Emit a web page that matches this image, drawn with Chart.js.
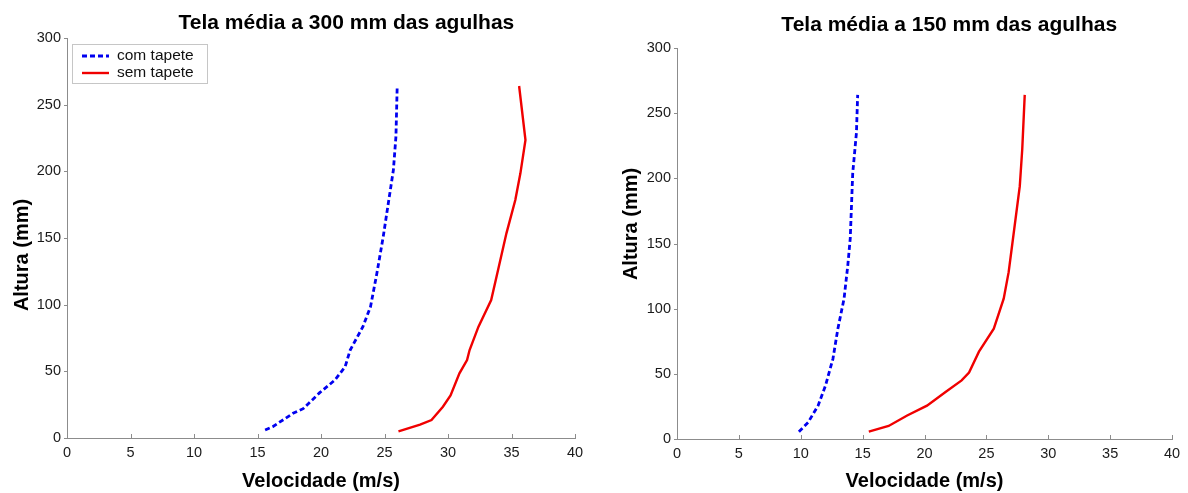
<!DOCTYPE html>
<html>
<head>
<meta charset="utf-8">
<script src="https://cdn.jsdelivr.net/npm/chart.js@4.4.1/dist/chart.umd.min.js"></script>
<style>
  body { margin: 0; background: #fff; }
  .panel { position: absolute; top: 0; height: 493px; }
  #p300 { left: 0; width: 600px; }
  #p150 { left: 600px; width: 588px; }
</style>
</head>
<body>
<div class="panel" id="p300"><canvas id="c300" width="600" height="493"></canvas></div>
<div class="panel" id="p150"><canvas id="c150" width="588" height="493"></canvas></div>
<script>
// Velocity profiles: height above the belt (mm) vs. air velocity (m/s)
const xTicks = [0, 5, 10, 15, 20, 25, 30, 35, 40]
const yTicks = [0, 50, 100, 150, 200, 250, 300]

// screen 300 mm from the needles
const alt300Com = [6, 8.5, 18.5, 22, 34, 43.5, 53.5, 66, 83.5, 98.5, 123.5, 151, 176, 201, 226, 264]
const vel300Com = [15.6, 16.2, 17.8, 18.6, 19.9, 21.1, 21.9, 22.3, 23.3, 23.9, 24.4, 24.9, 25.3, 25.7, 25.9, 26.0]
const alt300Sem = [5, 10, 13.5, 23.5, 32, 48.5, 58.5, 66, 83.5, 103.5, 128.5, 153.5, 178.5, 198.5, 223.5, 264]
const vel300Sem = [26.1, 27.8, 28.7, 29.6, 30.2, 30.9, 31.5, 31.7, 32.4, 33.4, 34.0, 34.6, 35.3, 35.7, 36.1, 35.6]

// screen 150 mm from the needles
const alt150Com = [5.6, 12.8, 25.6, 41, 61.5, 84.6, 107.7, 133, 154, 204, 235, 264]
const vel150Com = [9.85, 10.6, 11.4, 12.0, 12.6, 13.0, 13.5, 13.8, 14.0, 14.2, 14.5, 14.6]
const alt150Sem = [5.6, 10, 18, 25.6, 36, 45, 51, 67, 84.6, 107.7, 128, 150, 194, 222.5, 264]
const vel150Sem = [15.5, 17.1, 18.6, 20.2, 21.7, 23.0, 23.6, 24.4, 25.6, 26.4, 26.8, 27.1, 27.7, 27.9, 28.1]

const FONT = '"Liberation Sans", Arial, Helvetica, sans-serif'
const AXIS_GREY = "#8c8c8c"

function points(vel, alt) {
  return vel.map((v, i) => ({ x: v, y: alt[i] }))
}

function series(label, vel, alt, color, dash) {
  return {
    label: label,
    data: points(vel, alt),
    borderColor: color,
    borderWidth: dash ? 2.8 : 2.4,
    borderDash: dash || [],
    showLine: true,
    pointRadius: 0,
    tension: 0
  }
}

// MATLAB-ish decorations: short ticks, title, rotated y label, boxed legend
const axesDecor = {
  id: "axesDecor",
  afterDraw(chart, args, opts) {
    const { ctx, chartArea: area, scales: { x, y } } = chart
    ctx.save()

    ctx.strokeStyle = AXIS_GREY
    ctx.lineWidth = 1
    ctx.beginPath()
    x.ticks.forEach(t => {
      const px = Math.round(x.getPixelForValue(t.value)) + 0.5
      ctx.moveTo(px, area.bottom)
      ctx.lineTo(px, area.bottom - 4)
    })
    y.ticks.forEach(t => {
      const py = Math.round(y.getPixelForValue(t.value)) + 0.5
      ctx.moveTo(area.left - 3, py)
      ctx.lineTo(area.left + 1, py)
    })
    ctx.stroke()

    ctx.fillStyle = "#000"
    ctx.font = "bold 21px " + FONT
    ctx.textAlign = "center"
    ctx.textBaseline = "alphabetic"
    ctx.fillText(opts.title, area.left + area.width * 0.55, opts.titleY)

    ctx.save()
    ctx.font = "bold 20px " + FONT
    ctx.translate(opts.yTitleX, opts.yTitleY)
    ctx.rotate(-Math.PI / 2)
    ctx.textBaseline = "middle"
    ctx.fillText(opts.yTitle, 0, 0)
    ctx.restore()

    if (opts.legend) {
      const bx = area.left + 5, by = area.top + 6, bw = 135, bh = 39
      ctx.fillStyle = "#fff"
      ctx.fillRect(bx, by, bw, bh)
      ctx.strokeStyle = AXIS_GREY
      ctx.setLineDash([1, 1])
      ctx.strokeRect(bx + 0.5, by + 0.5, bw, bh)
      chart.data.datasets.forEach((ds, i) => {
        const ly = by + 12 + i * 17
        ctx.setLineDash(ds.borderDash)
        ctx.strokeStyle = ds.borderColor
        ctx.lineWidth = ds.borderWidth
        ctx.beginPath()
        ctx.moveTo(bx + 10, ly)
        ctx.lineTo(bx + 37, ly)
        ctx.stroke()
        ctx.fillStyle = "#111"
        ctx.font = "15.5px " + FONT
        ctx.textAlign = "left"
        ctx.textBaseline = "middle"
        ctx.fillText(ds.label, bx + 45, ly)
      })
    }
    ctx.restore()
  }
}

function makeChart(id, datasets, box, decor) {
  const tickFont = { family: FONT, size: 14.5 }
  return new Chart(document.getElementById(id), {
    type: "scatter",
    data: { datasets: datasets },
    options: {
      responsive: false,
      animation: false,
      events: [],
      layout: { padding: { top: box.top, right: box.right, left: 0, bottom: 0 } },
      plugins: {
        legend: { display: false },
        tooltip: { enabled: false },
        axesDecor: decor
      },
      scales: {
        x: {
          type: "linear",
          min: 0,
          max: 40,
          afterBuildTicks: s => { s.ticks = xTicks.map(v => ({ value: v })) },
          afterFit: s => { s.height = box.xHeight },
          grid: { display: false, drawTicks: false },
          border: { color: AXIS_GREY, width: 1, dash: [1, 1] },
          ticks: { color: "#1a1a1a", font: tickFont, padding: 6, maxRotation: 0 },
          title: {
            display: true,
            text: "Velocidade (m/s)",
            color: "#000",
            font: { family: FONT, size: 20, weight: "bold" },
            padding: { top: 0, bottom: 0 }
          }
        },
        y: {
          type: "linear",
          min: 0,
          max: 300,
          afterBuildTicks: s => { s.ticks = yTicks.map(v => ({ value: v })) },
          afterFit: s => { s.width = box.yWidth },
          grid: { display: false, drawTicks: false },
          border: { color: AXIS_GREY, width: 1, dash: [1, 1] },
          ticks: { color: "#1a1a1a", font: tickFont, padding: 6 }
        }
      }
    },
    plugins: [axesDecor]
  })
}

makeChart("c300", [
  series("com tapete", vel300Com, alt300Com, "#0000f0", [5, 3]),
  series("sem tapete", vel300Sem, alt300Sem, "#f00000")
], { top: 38, right: 25, yWidth: 67, xHeight: 55 }, {
  title: "Tela média a 300 mm das agulhas", titleY: 29,
  yTitle: "Altura (mm)", yTitleX: 22, yTitleY: 255,
  legend: true
})

makeChart("c150", [
  series("com tapete", vel150Com, alt150Com, "#0000f0", [5, 3]),
  series("sem tapete", vel150Sem, alt150Sem, "#f00000")
], { top: 48, right: 16, yWidth: 77, xHeight: 54 }, {
  title: "Tela média a 150 mm das agulhas", titleY: 31,
  yTitle: "Altura (mm)", yTitleX: 31, yTitleY: 224,
  legend: false
})
</script>
</body>
</html>
